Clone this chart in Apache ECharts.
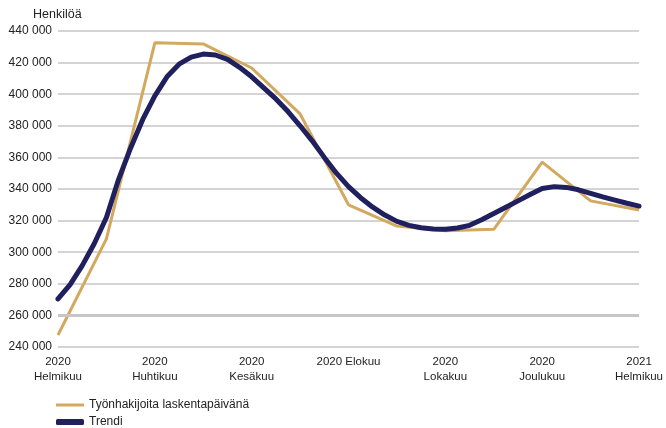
<!DOCTYPE html>
<html>
<head>
<meta charset="utf-8">
<script src="https://cdn.jsdelivr.net/npm/echarts@6/dist/echarts.min.js"></script>
<style>html,body{margin:0;padding:0;background:#fff;}#c{width:666px;height:428px;}</style>
</head>
<body>
<div id="c"></div>
<script>
// Month labels (index 0..12 = Feb 2020 .. Feb 2021)
const monthLabels = ['2020\nHelmikuu','2020\nMaaliskuu','2020\nHuhtikuu','2020\nToukokuu','2020\nKesäkuu','2020\nHeinäkuu','2020 Elokuu','2020\nSyyskuu','2020\nLokakuu','2020\nMarraskuu','2020\nJoulukuu','2021\nTammikuu','2021\nHelmikuu'];
// Monthly job seekers on count day
const seekers = [247600, 308400, 432500, 431800, 416600, 387500, 330000, 316500, 313500, 314500, 357000, 332500, 326700];
// Trend (approx. weekly, x = month index)
const trendX = [0,0.25,0.5,0.75,1,1.25,1.5,1.75,2,2.25,2.5,2.75,3,3.25,3.5,3.75,4,4.25,4.5,4.75,5,5.25,5.5,5.75,6,6.25,6.5,6.75,7,7.25,7.5,7.75,8,8.25,8.5,8.75,9,9.25,9.5,9.75,10,10.25,10.5,10.75,11,11.25,11.5,11.75,12];
const trendY = [270400,279500,291500,305500,322000,346000,366000,384000,399000,411000,419000,423500,425400,424800,422000,417000,411000,404000,397000,389000,380000,370500,360000,350000,341500,334500,328500,323500,319500,317000,315500,314700,314500,315300,317000,320500,324500,328500,332500,336500,340300,341500,341000,339500,337200,335000,333000,331000,329200];
const yTicks = {min:240000, max:440000, step:20000};

const font = "'Liberation Sans', Arial, sans-serif";
const gold = '#d2a95e', navy = '#20205e';
const chart = echarts.init(document.getElementById('c'), null, {renderer:'canvas'});
chart.setOption({
  animation:false,
  backgroundColor:'#fff',
  textStyle:{fontFamily:font},
  grid:{left:58, right:23, top:31, bottom:81, containLabel:false},
  xAxis:{
    type:'value', min:0, max:12, interval:2,
    axisLine:{show:false}, axisTick:{show:false}, splitLine:{show:false},
    axisLabel:{
      formatter:(v)=>monthLabels[Math.round(v)] || '',
      color:'#222', fontSize:11.5, lineHeight:15, margin:7, fontFamily:font,
      showMinLabel:true, showMaxLabel:true
    }
  },
  yAxis:{
    type:'value', min:yTicks.min, max:yTicks.max, interval:yTicks.step,
    name:'Henkilöä', nameLocation:'end', nameGap:10,
    nameTextStyle:{color:'#222', fontSize:12.5, align:'left', padding:[0,0,0,-25], fontFamily:font},
    axisLine:{show:false}, axisTick:{show:false},
    splitLine:{lineStyle:{color:'#c6c6c6', width:1.5}},
    axisLabel:{
      formatter:(v)=>String(v).replace(/\B(?=(\d{3})+(?!\d))/g,' '),
      color:'#222', fontSize:12, margin:6, fontFamily:font
    }
  },
  legend:[
    {left:51, top:394, itemWidth:28, itemHeight:3, icon:'rect',
      textStyle:{color:'#222', fontSize:12, fontFamily:font},
      data:[{name:'Työnhakijoita laskentapäivänä'}]},
    {left:51, top:411, itemWidth:28, itemHeight:6, icon:'roundRect',
      textStyle:{color:'#222', fontSize:12, fontFamily:font},
      data:[{name:'Trendi'}]}
  ],
  series:[
    {
      name:'Työnhakijoita laskentapäivänä', type:'line', symbol:'none',
      data: seekers.map((v,i)=>[i,v]),
      lineStyle:{color:gold, width:3},
      itemStyle:{color:gold},
      markLine:{silent:true, symbol:'none', label:{show:false},
        lineStyle:{color:'#c6c6c6', width:3, type:'solid'},
        data:[{yAxis:260000}]},
      z:2
    },
    {
      name:'Trendi', type:'line', symbol:'none',
      data: trendX.map((x,i)=>[x,trendY[i]]),
      lineStyle:{color:navy, width:5, cap:'round', join:'round'},
      itemStyle:{color:navy},
      z:3
    }
  ]
});
</script>
</body>
</html>
